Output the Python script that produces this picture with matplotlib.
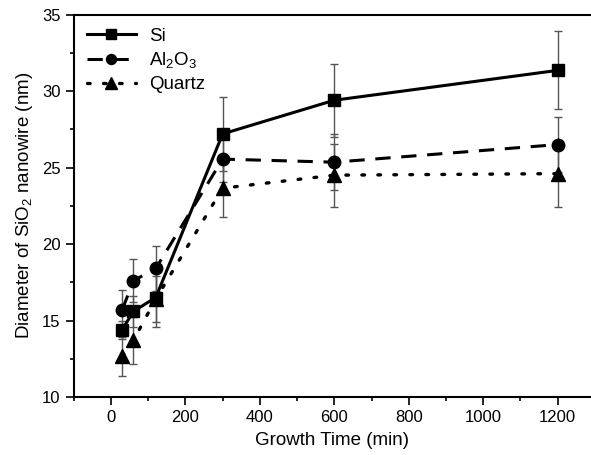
import matplotlib
matplotlib.use("Agg")
import matplotlib.pyplot as plt
from matplotlib.ticker import MultipleLocator

plt.rcParams['font.family'] = ['Liberation Sans', 'DejaVu Sans']
plt.rcParams['mathtext.default'] = 'regular'

time = [30, 60, 120, 300, 600, 1200]
si = [14.4, 15.6, 16.5, 27.2, 29.4, 31.35]
si_err = [0.6, 1.0, 1.9, 2.4, 2.4, 2.55]
al = [15.7, 17.6, 18.4, 25.55, 25.35, 26.5]
al_err = [1.3, 1.4, 1.5, 1.5, 1.85, 1.8]
qz = [12.65, 13.7, 16.4, 23.65, 24.5, 24.6]
qz_err = [1.3, 1.55, 1.5, 1.9, 2.05, 2.15]

fig = plt.figure(figsize=(5.91, 4.55), dpi=100)
ax = fig.add_axes([0.125, 0.1275, 0.875, 0.8405])

ekw = dict(ecolor='#555555', elinewidth=1.0, capsize=3, capthick=1.0, zorder=1)
ax.errorbar(time, si, yerr=si_err, fmt='none', **ekw)
ax.errorbar(time, al, yerr=al_err, fmt='none', **ekw)
ax.errorbar(time, qz, yerr=qz_err, fmt='none', **ekw)

ax.plot(time, si, '-', color='black', lw=2.2, marker='s', ms=8.5, label='Si', zorder=5)
ax.plot(time, al, color='black', lw=2.2, ls=(0, (5, 3.5)), marker='o', ms=9,
        label='Al$_2$O$_3$', zorder=4)
ax.plot(time, qz, color='black', lw=2.4, ls=(0, (0.8, 4)), dash_capstyle='round',
        marker='^', ms=10, label='Quartz', zorder=3)

ax.set_xlim(-100, 1290)
ax.set_ylim(10, 35)
ax.xaxis.set_major_locator(MultipleLocator(200))
ax.xaxis.set_minor_locator(MultipleLocator(100))
ax.yaxis.set_major_locator(MultipleLocator(5))
ax.yaxis.set_minor_locator(MultipleLocator(2.5))
ax.tick_params(which='both', direction='out', labelsize=12, width=1.2)
ax.tick_params(which='major', length=6)
ax.tick_params(which='minor', length=3)
ax.spines['right'].set_visible(False)
for s in ['left', 'bottom', 'top']:
    ax.spines[s].set_linewidth(1.5)

ax.set_xlabel('Growth Time (min)', fontsize=13.5, labelpad=5)
ax.set_ylabel('Diameter of SiO$_2$ nanowire (nm)', fontsize=13.5, labelpad=5)

ax.legend(loc='upper left', frameon=False, fontsize=13.5, handlelength=2.6,
          borderaxespad=0.3, labelspacing=0.3, markerscale=0.8, handletextpad=0.7)

fig.savefig('out.png', dpi=100)
